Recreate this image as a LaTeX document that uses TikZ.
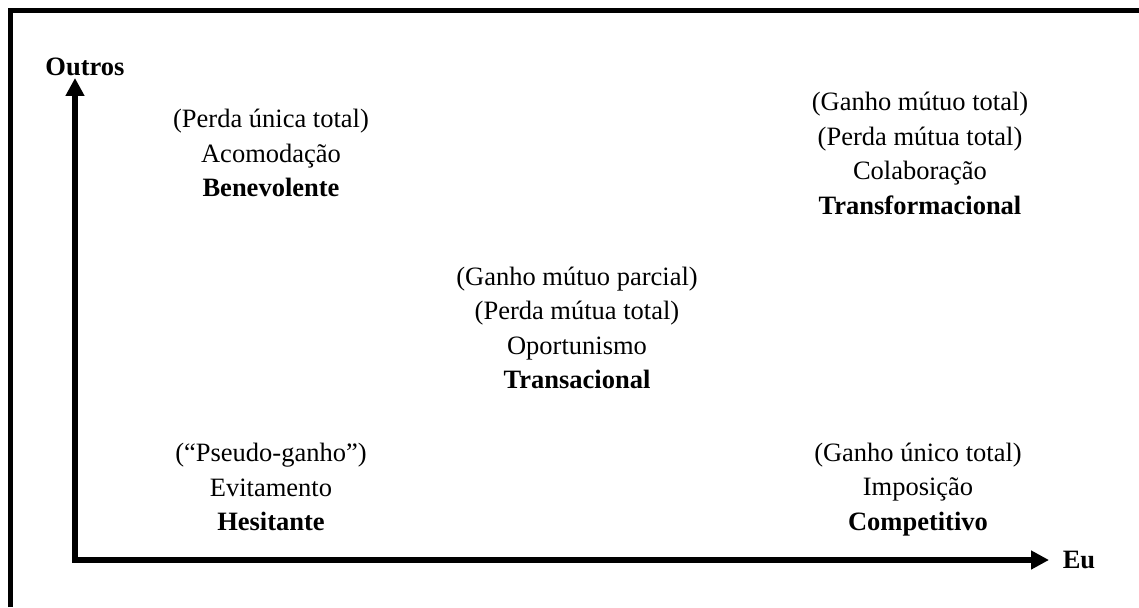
\documentclass[tikz,border=0pt]{standalone}
\usepackage{fontspec}
\setmainfont{Liberation Serif}
\usetikzlibrary{arrows.meta}
\begin{document}
\begin{tikzpicture}[x=1pt,y=-1pt,
  txt/.style={align=center,inner sep=0pt,font=\fontsize{26.5}{34.5}\selectfont},
  axislabel/.style={inner sep=0pt,font=\fontsize{26.5}{30}\selectfont\bfseries},
  axis/.style={line width=6pt,line join=miter,{Triangle[length=18pt,width=18pt]}-{Triangle[length=18pt,width=18pt]}},
  frame/.style={line width=4.5pt}]
\useasboundingbox (0,0) rectangle (1139,607);
% frame
\coordinate (fb) at (10.5,607);
\coordinate (fc) at (10.5,10.5);
\coordinate (fr) at (1139,10.5);
\draw[frame,line join=miter] (fb) -- (fc) -- (fr);
% axes
\coordinate (ytip) at (75,78);
\coordinate (xtip) at (1049,560);
\draw[axis] (ytip) |- (xtip);
\node[axislabel] (outros) at (85,67) {Outros};
\node[axislabel] (eu) at (1079,560) {Eu};
% quadrants
\node[txt] (ben) at (271,153) {(Perda única total)\\Acomodação\\\textbf{Benevolente}};
\node[txt] (tra) at (920,153.5) {(Ganho mútuo total)\\(Perda mútua total)\\Colaboração\\\textbf{Transformacional}};
\node[txt] (trs) at (577,328) {(Ganho mútuo parcial)\\(Perda mútua total)\\Oportunismo\\\textbf{Transacional}};
\node[txt] (hes) at (271,487) {(“Pseudo-ganho”)\\Evitamento\\\textbf{Hesitante}};
\node[txt] (com) at (918,489.5) {(Ganho único total)\\Imposição\\\textbf{Competitivo}};
\end{tikzpicture}
\end{document}
